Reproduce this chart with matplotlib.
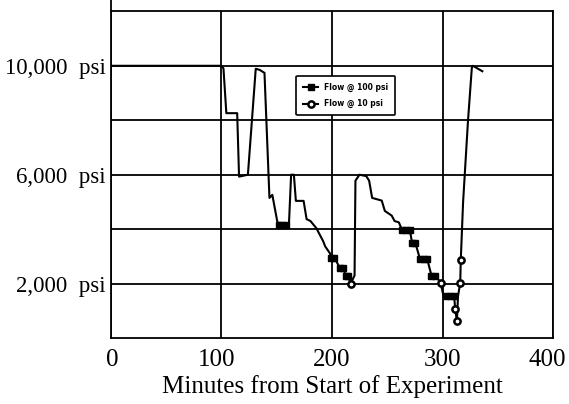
import numpy as np
import matplotlib.pyplot as plt
from matplotlib.transforms import ScaledTranslation

plt.rcParams['font.family'] = ['Liberation Serif', 'DejaVu Serif']

# --------------------------------------------------------------------------
# data (minutes, psi)
# --------------------------------------------------------------------------
t_100 = [0, 40, 100, 101.8, 104.4, 114.2, 115.9, 123.9, 131.0, 134.5, 138.9,
         143.4, 146.0, 150.4, 152.0, 155.0, 158.5, 161.0, 163.0, 165.5, 167.3,
         174.3, 177.0, 180.5, 185.8, 192.0, 193.8, 198.2, 199.5, 202.0, 207.0,
         210.0, 212.5, 214.5, 216.8, 220.4, 221.2, 224.8, 231.0, 233.6, 236.3,
         245.0, 247.8, 254.0, 256.6, 260.5, 263.5, 267.0, 270.5, 272.5, 275.5,
         279.5, 283.0, 286.0, 290.0, 293.5, 298.2, 300.9, 303.5, 307.0, 310.5]
p_100 = [10000, 10000, 10000, 9900, 8260, 8260, 5930, 6000, 9890, 9850, 9740,
         5150, 5260, 4300, 4150, 4150, 4150, 4150, 6000, 6000, 5040,
         5040, 4370, 4300, 4040, 3560, 3370, 3110, 2960, 2960, 2590,
         2590, 2300, 2300, 2000, 2300, 5780, 6000, 5950, 5780, 5150,
         5050, 4670, 4500, 4300, 4250, 3960, 3960, 3960, 3480, 3480,
         2920, 2920, 2920, 2300, 2300, 2040, 1540, 1540, 1540, 1540]
square_idx = [14, 15, 16, 28, 29, 30, 31, 32, 33, 46, 47, 48, 49, 50,
              51, 52, 53, 54, 55, 58, 59, 60]

t_10 = [216.8, np.nan, 298.2, np.nan, 310.5, 311.5, 313.0, 314.0, 316.0,
        316.5, 318.6, 323.0, 326.5, 327.4, 336.0]
p_10 = [2000, np.nan, 2040, np.nan, 1540, 1060, 620, 1540, 2030,
        2870, 5000, 7960, 9930, 10000, 9800]
circle_idx = [0, 2, 5, 6, 8, 9]

x_ticks = [0, 100, 200, 300, 400]
y_ticks = [2000, 6000, 10000]
y_labels = ['2,000  psi', '6,000  psi', '10,000  psi']

fig = plt.figure(figsize=(5.69, 4.04), dpi=100)
ax = fig.add_axes([0.195, 0.163, 0.777, 0.809])

ax.plot(t_100, p_100, color='black', lw=1.5, marker='s', ms=5,
        markevery=square_idx, label='Flow @ 100 psi')
ax.plot(t_10, p_10, color='black', lw=1.5, marker='o', ms=4.5,
        mfc='white', mec='black', mew=1.8, markevery=circle_idx,
        label='Flow @ 10 psi')

ax.set_xlim(0, 400)
ax.set_ylim(0, 12000)
ax.set_xticks(x_ticks)
ax.set_yticks(y_ticks)
ax.set_yticklabels(y_labels)
ax.set_yticks([4000, 8000], minor=True)
ax.grid(True, which='both', color='black', lw=1.3)
ax.set_axisbelow(True)
ax.tick_params(which='both', length=0)
ax.tick_params(axis='x', labelsize=18, pad=8)
ax.tick_params(axis='y', labelsize=16.5, pad=4)
for s in ax.spines.values():
    s.set_linewidth(1.3)
# left axis line runs a little above the frame in the original
ax.spines['left'].set_bounds(0, 12400)

# the scanned tick labels sit a bit left of their grid lines
fig.canvas.draw()
xlabs = ax.get_xticklabels()
for lab, dx in zip(xlabs, [1, -5, 0, 0, -6]):
    lab.set_transform(lab.get_transform() + ScaledTranslation(dx / 100, 0, fig.dpi_scale_trans))

ax.set_xlabel('Minutes from Start of Experiment', fontsize=18, labelpad=3)

leg = ax.legend(loc='upper left', bbox_to_anchor=(0.41, 0.815),
                prop={'family': 'DejaVu Sans', 'weight': 'bold', 'size': 5.5},
                frameon=True, fancybox=True, edgecolor='black',
                handlelength=2.0, borderpad=0.9, labelspacing=1.0)
leg.get_frame().set_linewidth(1.2)
leg.get_frame().set_alpha(1)

plt.savefig('out.png', dpi=100)
